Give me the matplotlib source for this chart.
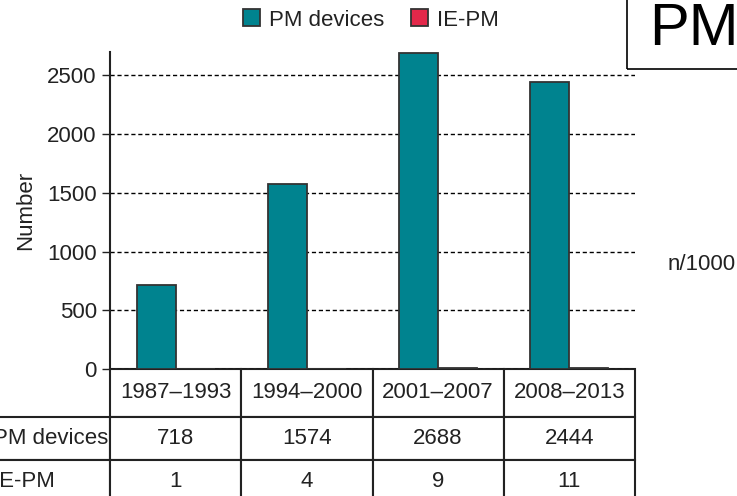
import matplotlib
matplotlib.use("Agg")
import matplotlib.pyplot as plt
import numpy as np
from matplotlib.patches import Patch, Rectangle
from matplotlib.table import Table

plt.rcParams["font.family"] = ["Liberation Sans", "DejaVu Sans"]

PERIODS = ["1987\u20131993", "1994\u20132000", "2001\u20132007", "2008\u20132013"]
PM_DEVICES = [718, 1574, 2688, 2444]
IE_PM = [1, 4, 9, 11]
SERIES = ["PM devices", "IE-PM"]

TEAL = "#00838F"
RED = "#E3284A"
EDGE = "#333333"
TXT = "#222222"

W, H = 737, 496
AX_W, AX_H = 525, 317
fig = plt.figure(figsize=(W / 100, H / 100), dpi=100)
# axes in pixel terms: left 110, right 635, top 52, bottom 369
ax = fig.add_axes([110 / W, 1 - 369 / H, AX_W / W, AX_H / H])

x = np.arange(len(PERIODS))
bw = 0.297
ax.bar(x - bw, PM_DEVICES, width=bw, align="edge", color=TEAL,
       edgecolor=EDGE, linewidth=1.3, zorder=3)
ax.bar(x, IE_PM, width=bw, align="edge", color=RED,
       edgecolor=EDGE, linewidth=1.3, zorder=3)

ax.set_xlim(-0.5, len(PERIODS) - 0.5)
ax.set_ylim(0, 2700)
ax.set_yticks(np.arange(0, 2501, 500))
ax.yaxis.grid(True, color="black", linestyle=(0, (3, 2)), linewidth=1)
ax.set_axisbelow(True)
ax.tick_params(axis="y", labelsize=16, colors=TXT, length=6, width=1)
ax.tick_params(axis="x", bottom=False, labelbottom=False)
for s in ("top", "right", "bottom"):
    ax.spines[s].set_visible(False)
ax.spines["left"].set_linewidth(1.5)
ax.spines["left"].set_color("#222222")
ax.set_ylabel("Number", fontsize=16, color=TXT, labelpad=8)

# table under the axes; sizes in axes fractions so the bbox scale stays 1
row_h = [48 / AX_H, 43 / AX_H, 43 / AX_H]
col_w = 1 / len(PERIODS)
lab_w = 130 / AX_W
tab = Table(ax, bbox=[0, -sum(row_h), 1, sum(row_h)])
for j, p in enumerate(PERIODS):
    tab.add_cell(0, j, width=col_w, height=row_h[0], text=p, loc="center")
rows = [PM_DEVICES, IE_PM]
for i, (name, vals) in enumerate(zip(SERIES, rows), start=1):
    tab.add_cell(i, -1, width=lab_w, height=row_h[i], text=name, loc="left")
    for j, v in enumerate(vals):
        tab.add_cell(i, j, width=col_w, height=row_h[i], text=str(v), loc="center")
tab.auto_set_font_size(False)
tab.set_fontsize(16)
for cell in tab.get_celld().values():
    cell.set_edgecolor("#222222")
    cell.set_linewidth(1.5)
    cell.get_text().set_color(TXT)
ax.add_table(tab)
tab.set_clip_on(False)

handles = [Patch(facecolor=TEAL, edgecolor=EDGE, linewidth=1.3),
           Patch(facecolor=RED, edgecolor=EDGE, linewidth=1.3)]
fig.legend(handles, SERIES, loc="center", bbox_to_anchor=(371 / W, 1 - 20 / H),
           ncol=2, frameon=False, fontsize=16, handlelength=0.78, handleheight=0.78,
           handletextpad=0.4, columnspacing=1.2, labelcolor=TXT)

# pieces of the neighbouring panel
fig.patches.append(Rectangle((627 / W, 1 - 69 / H), 0.3, 0.3, transform=fig.transFigure,
                             fill=False, edgecolor="black", linewidth=1.2))
fig.text(649 / W, 1 - 45 / H, "PM", fontsize=43, va="baseline", ha="left", color="black")
fig.text(668 / W, 1 - 265 / H, "n/1000", fontsize=16, va="center", ha="left", color=TXT)

fig.savefig("out.png", dpi=100)
